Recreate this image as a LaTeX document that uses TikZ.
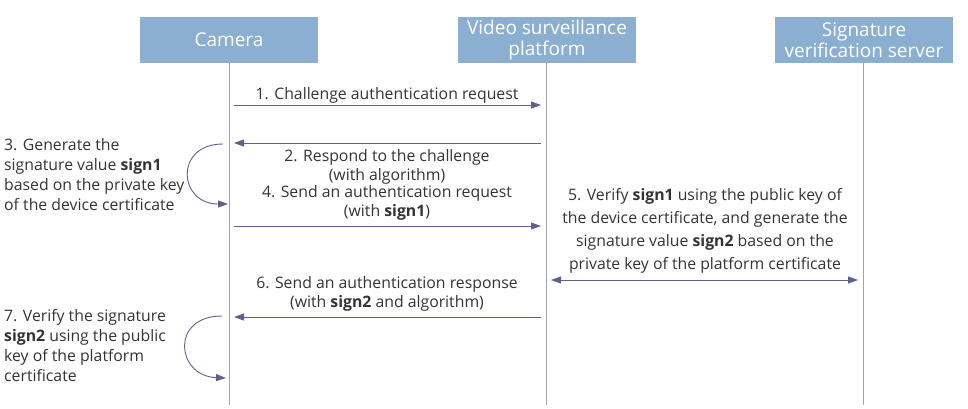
\documentclass[tikz,border=0pt]{standalone}
\usepackage{fontspec}
\setmainfont{Open Sans}
\usetikzlibrary{arrows.meta}
\definecolor{hdr}{HTML}{8AAFD0}
\definecolor{lin}{HTML}{A0A0BC}
\definecolor{arr}{HTML}{60608F}
\definecolor{txt}{HTML}{333333}
\tikzset{
  hdrbox/.style={fill=hdr, minimum width=178pt, minimum height=46pt, text=white,
    font=\fontsize{19}{21.5}\selectfont, align=center, inner sep=0pt},
  life/.style={draw=lin, line width=0.9pt},
  msg/.style={draw=arr, line width=0.9pt, -{Triangle[length=10pt,width=7pt]}},
  dmsg/.style={draw=arr, line width=0.9pt, {Triangle[length=10pt,width=7pt]}-{Triangle[length=10pt,width=7pt]}},
  lbl/.style={text=txt, font=\fontsize{15.8}{19}\selectfont, align=center, inner sep=0pt},
  lbll/.style={text=txt, font=\fontsize{15.8}{20}\selectfont, align=left, inner sep=0pt, anchor=west},
}
\begin{document}
\begin{tikzpicture}[x=1pt,y=-1pt]
\useasboundingbox (0,0) rectangle (968,408);
% headers
\node[hdrbox] (cam) at (229,40) {Camera};
\node[hdrbox] (vsp) at (547,40) {Video surveillance\\platform};
\node[hdrbox] (svs) at (864,40) {Signature\\verification server};
% lifelines
\coordinate (camE) at (229,405);
\coordinate (vspE) at (546,405);
\coordinate (svsE) at (863,405);
\draw[life] (229,63) -- (camE);
\draw[life] (546,63) -- (vspE);
\draw[life] (863,63) -- (svsE);
% message endpoints
\coordinate (a1s) at (234,105); \coordinate (a1e) at (541,105);
\coordinate (a2s) at (541,143); \coordinate (a2e) at (234,143);
\coordinate (a4s) at (234,226); \coordinate (a4e) at (541,226);
\coordinate (a5s) at (551,280); \coordinate (a5e) at (858,280);
\coordinate (a6s) at (541,317); \coordinate (a6e) at (234,317);
\coordinate (c3s) at (223,144); \coordinate (c3e) at (228,204);
\coordinate (c7s) at (222,316); \coordinate (c7e) at (226,378);
% arrows
\draw[msg] (a1s) -- (a1e);
\draw[msg] (a2s) -- (a2e);
\draw[msg] (a4s) -- (a4e);
\draw[dmsg] (a5s) -- (a5e);
\draw[msg] (a6s) -- (a6e);
\draw[msg] (c3s) .. controls (174,144) and (178,204) .. (c3e);
\draw[msg] (c7s) .. controls (170,316) and (176,376) .. (c7e);
% labels
\node[lbl] (l1) at (387,95) {1. Challenge authentication request};
\node[lbl] (l2) at (387,166.5) {2. Respond to the challenge\\(with algorithm)};
\node[lbl] (l4) at (387,202.5) {4. Send an authentication request\\(with \textbf{sign1})};
\node[lbl, font=\fontsize{15.8}{22.8}\selectfont] (l5) at (705,231) {5. Verify \textbf{sign1} using the public key of\\the device certificate, and generate the\\signature value \textbf{sign2} based on the\\private key of the platform certificate};
\node[lbl] (l6) at (387,293.5) {6. Send an authentication response\\(with \textbf{sign2} and algorithm)};
\node[lbll] (l3) at (4,175) {3. Generate the\\signature value \textbf{sign1}\\based on the private key\\of the device certificate};
\node[lbll] (l7) at (4,346) {7. Verify the signature\\\textbf{sign2} using the public\\key of the platform\\certificate};
\end{tikzpicture}
\end{document}
